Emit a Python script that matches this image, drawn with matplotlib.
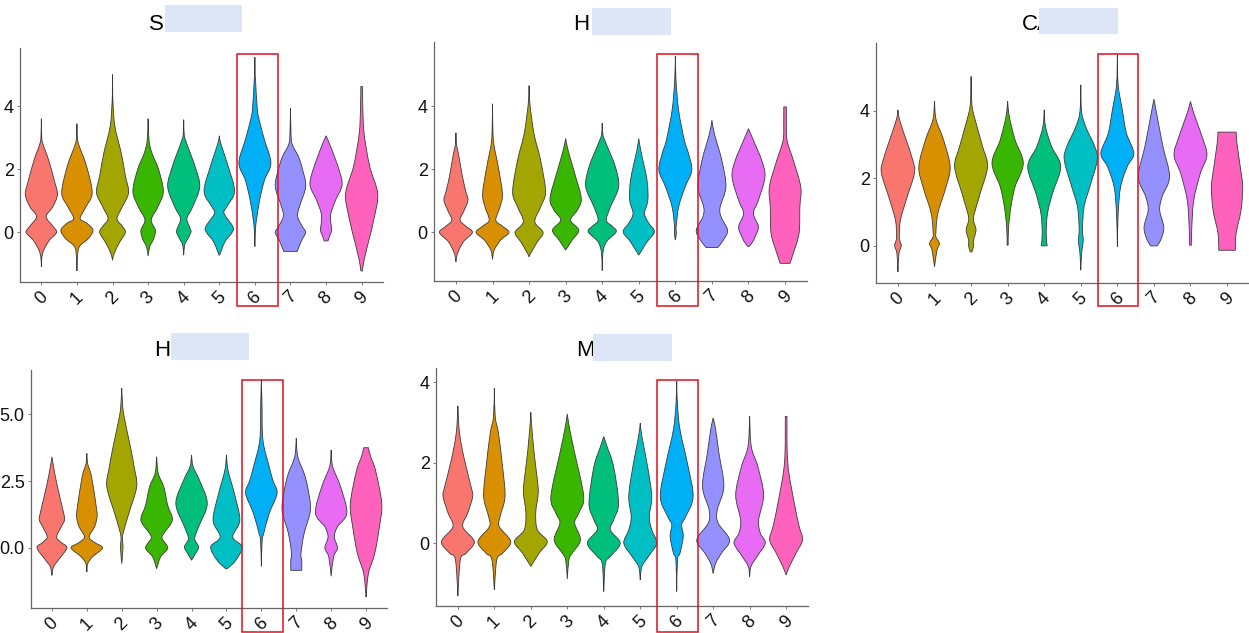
import matplotlib
matplotlib.use("Agg")
import matplotlib.pyplot as plt
from matplotlib.patches import Rectangle, PathPatch
from matplotlib.path import Path

plt.rcParams['font.family'] = ['Liberation Sans', 'DejaVu Sans']

# cluster labels and ggplot hue colours
clusters = ['0', '1', '2', '3', '4', '5', '6', '7', '8', '9']
colors = ['#F8766D', '#D89000', '#A3A500', '#39B600', '#00BF7D',
          '#00BFC4', '#00B0F6', '#9590FF', '#E76BF3', '#FF62BC']

# violin outlines: (value, relative half-width)
s_profiles = [
    [(-1.09, 0), (-0.8, 0.03), (-0.56, 0.15), (-0.25, 0.5), (0, 0.95), (0.18, 0.75), (0.5, 0.3), (0.8, 0.7), (1.2, 1.0), (1.66, 0.8), (2.3, 0.45), (2.83, 0.08), (3.1, 0.02), (3.6, 0)],
    [(-1.22, 0), (-0.8, 0.03), (-0.45, 0.15), (-0.2, 0.7), (0.07, 1.0), (0.3, 0.6), (0.44, 0.2), (0.8, 0.55), (1.25, 0.95), (2.1, 0.6), (2.8, 0.1), (3.1, 0.02), (3.44, 0)],
    [(-0.88, 0), (-0.67, 0.1), (-0.35, 0.4), (0, 0.8), (0.2, 0.6), (0.44, 0.28), (0.8, 0.6), (1.26, 1.0), (1.8, 0.8), (2.5, 0.55), (3.35, 0.15), (4.1, 0.03), (4.5, 0.01), (5.0, 0)],
    [(-0.75, 0), (-0.45, 0.1), (-0.2, 0.35), (0.07, 0.45), (0.4, 0.2), (0.8, 0.6), (1.3, 0.95), (2.0, 0.65), (2.5, 0.25), (2.9, 0.06), (3.6, 0)],
    [(-0.72, 0), (-0.4, 0.06), (-0.25, 0.2), (0, 0.45), (0.13, 0.4), (0.44, 0.2), (0.8, 0.55), (1.45, 1.0), (2.1, 0.7), (2.8, 0.2), (3.1, 0.03), (3.57, 0)],
    [(-0.72, 0.02), (-0.3, 0.35), (0, 0.8), (0.18, 0.85), (0.6, 0.3), (0.8, 0.45), (1.3, 0.95), (2.1, 0.55), (2.8, 0.1), (3.06, 0)],
    [(-0.45, 0), (0.1, 0.04), (0.4, 0.1), (1.03, 0.3), (1.66, 0.6), (2.2, 1.0), (2.93, 0.6), (3.5, 0.3), (3.9, 0.15), (4.84, 0.04), (5.0, 0.01), (5.55, 0)],
    [(-0.6, 0.4), (-0.56, 0.45), (-0.25, 0.7), (0, 0.95), (0.18, 0.75), (0.5, 0.45), (0.8, 0.55), (1.45, 0.95), (2.0, 0.75), (2.4, 0.5), (2.8, 0.1), (3.2, 0.03), (3.94, 0)],
    [(-0.27, 0.12), (-0.14, 0.2), (0.07, 0.35), (0.3, 0.3), (0.6, 0.3), (1.03, 0.6), (1.5, 1.0), (2.0, 0.8), (2.7, 0.3), (3.06, 0)],
    [(-1.22, 0.05), (-0.88, 0.15), (-0.25, 0.45), (0.5, 0.8), (1.24, 1.0), (2.1, 0.5), (3.14, 0.15), (4.0, 0.07), (4.62, 0.05)],
]

h1_profiles = [
    [(-0.93, 0), (-0.66, 0.1), (-0.3, 0.45), (0, 1.0), (0.2, 0.6), (0.39, 0.25), (0.7, 0.5), (1.02, 0.73), (1.3, 0.6), (1.76, 0.4), (2.5, 0.15), (2.8, 0.03), (3.16, 0)],
    [(-0.85, 0), (-0.56, 0.1), (-0.24, 0.5), (0, 1.0), (0.2, 0.6), (0.39, 0.2), (0.8, 0.45), (1.23, 0.6), (2.08, 0.35), (2.8, 0.08), (3.3, 0.02), (4.08, 0)],
    [(-0.77, 0), (-0.66, 0.1), (-0.3, 0.5), (0, 0.85), (0.34, 0.35), (0.81, 0.7), (1.29, 1.0), (2.29, 0.7), (3.13, 0.3), (4.08, 0.05), (4.66, 0)],
    [(-0.56, 0), (-0.24, 0.4), (0.07, 0.8), (0.39, 0.3), (0.7, 0.7), (1.08, 0.95), (1.87, 0.55), (2.6, 0.15), (2.98, 0)],
    [(-1.21, 0), (-0.66, 0.04), (-0.3, 0.25), (0.02, 0.85), (0.2, 0.6), (0.39, 0.25), (0.81, 0.5), (1.45, 1.0), (2.08, 0.8), (2.8, 0.25), (3.1, 0.04), (3.47, 0)],
    [(-0.72, 0), (-0.3, 0.5), (0.02, 0.95), (0.3, 0.6), (0.6, 0.35), (1.02, 0.55), (1.66, 0.5), (2.6, 0.12), (2.98, 0)],
    [(-0.24, 0), (-0.03, 0.06), (0.18, 0.05), (0.81, 0.2), (1.45, 0.6), (1.97, 1.0), (2.5, 0.8), (2.92, 0.55), (3.87, 0.2), (4.82, 0.04), (5.6, 0)],
    [(-0.48, 0.35), (-0.24, 0.7), (0.07, 0.95), (0.5, 0.55), (0.81, 0.5), (1.45, 0.85), (2.29, 0.6), (3.13, 0.15), (3.56, 0)],
    [(-0.44, 0.05), (-0.3, 0.25), (-0.14, 0.4), (0.18, 0.6), (0.6, 0.3), (1.02, 0.6), (1.76, 1.0), (2.29, 0.8), (2.92, 0.3), (3.29, 0)],
    [(-0.98, 0.3), (-0.66, 0.5), (-0.03, 0.85), (0.81, 0.9), (1.45, 0.95), (2.29, 0.5), (2.92, 0.12), (3.5, 0.08), (3.98, 0.08)],
]

ca_profiles = [
    [(-0.77, 0), (-0.23, 0.06), (0, 0.2), (0.15, 0.12), (0.27, 0.08), (0.76, 0.15), (1.36, 0.5), (2.15, 1.0), (2.54, 0.9), (3.14, 0.5), (3.73, 0.1), (4.03, 0)],
    [(-0.62, 0), (-0.13, 0.15), (0.07, 0.3), (0.25, 0.1), (0.37, 0.08), (0.96, 0.2), (1.75, 0.7), (2.35, 0.95), (3.14, 0.55), (3.73, 0.1), (4.28, 0)],
    [(-0.18, 0.05), (0, 0.15), (0.17, 0.15), (0.47, 0.3), (0.75, 0.15), (0.96, 0.2), (1.55, 0.55), (2.35, 1.0), (2.94, 0.7), (3.73, 0.25), (4.18, 0.05), (5.02, 0)],
    [(0.02, 0.03), (0.56, 0.06), (1.16, 0.2), (1.75, 0.45), (2.45, 0.95), (3.14, 0.45), (3.83, 0.1), (4.28, 0)],
    [(0, 0.18), (0.37, 0.12), (0.96, 0.2), (1.55, 0.5), (2.35, 1.0), (2.94, 0.45), (3.53, 0.08), (4.03, 0)],
    [(-0.72, 0), (-0.23, 0.05), (0.17, 0.15), (0.47, 0.1), (1.16, 0.2), (1.75, 0.55), (2.54, 1.0), (2.94, 0.85), (3.53, 0.3), (3.98, 0.05), (4.77, 0)],
    [(-0.03, 0), (0.96, 0.05), (1.75, 0.2), (2.35, 0.6), (2.74, 1.0), (3.34, 0.55), (4.03, 0.3), (4.77, 0.05), (5.66, 0)],
    [(0, 0.2), (0.22, 0.45), (0.56, 0.6), (1.06, 0.35), (1.46, 0.5), (2.05, 0.95), (2.94, 0.55), (3.83, 0.2), (4.35, 0)],
    [(0.02, 0.05), (0.56, 0.08), (1.36, 0.2), (2.15, 0.6), (2.69, 1.0), (3.24, 0.7), (3.93, 0.2), (4.28, 0)],
    [(-0.13, 0.5), (0.37, 0.55), (1.06, 0.85), (1.75, 0.95), (2.35, 0.8), (3.04, 0.6), (3.37, 0.55)],
]

h2_profiles = [
    [(-1.03, 0), (-0.71, 0.1), (-0.46, 0.4), (0, 0.95), (0.2, 0.6), (0.41, 0.3), (0.8, 0.6), (1.04, 0.8), (1.29, 0.75), (2.29, 0.35), (3.04, 0.1), (3.41, 0)],
    [(-0.9, 0), (-0.6, 0.05), (-0.34, 0.35), (0, 1.0), (0.2, 0.5), (0.41, 0.15), (0.8, 0.5), (1.16, 0.65), (1.54, 0.6), (2.66, 0.3), (3.16, 0.05), (3.54, 0)],
    [(-0.59, 0), (0, 0.08), (0.41, 0.05), (0.79, 0.2), (1.29, 0.45), (2.29, 0.95), (3.0, 0.8), (3.79, 0.55), (4.91, 0.15), (5.4, 0.05), (5.98, 0)],
    [(-0.78, 0), (-0.34, 0.25), (0, 0.7), (0.35, 0.35), (0.54, 0.45), (1.04, 1.0), (1.6, 0.7), (2.29, 0.45), (2.79, 0.1), (3.41, 0)],
    [(-0.46, 0), (-0.21, 0.25), (0.04, 0.45), (0.35, 0.2), (0.79, 0.45), (1.66, 1.0), (2.54, 0.5), (3.04, 0.1), (3.48, 0)],
    [(-0.78, 0.05), (-0.46, 0.6), (0.04, 1.0), (0.41, 0.4), (1.04, 0.85), (2.04, 0.5), (2.91, 0.1), (3.48, 0)],
    [(-0.69, 0), (0.29, 0.05), (0.54, 0.15), (1.29, 0.5), (2.04, 1.0), (2.5, 0.75), (3.04, 0.5), (4.04, 0.1), (5.41, 0.04), (6.29, 0)],
    [(-0.84, 0.35), (-0.46, 0.35), (-0.21, 0.3), (0.54, 0.5), (1.41, 0.9), (2.2, 0.75), (2.79, 0.5), (3.41, 0.1), (4.1, 0)],
    [(-1.06, 0), (-0.34, 0.15), (0, 0.4), (0.41, 0.2), (0.79, 0.4), (1.31, 1.0), (2.29, 0.6), (3.04, 0.1), (3.66, 0)],
    [(-1.84, 0), (-0.96, 0.15), (-0.21, 0.55), (0.79, 0.85), (1.66, 1.0), (2.91, 0.6), (3.4, 0.3), (3.75, 0.15)],
]

m_profiles = [
    [(-1.31, 0), (-0.41, 0.15), (-0.25, 0.5), (0.04, 1.0), (0.41, 0.3), (0.75, 0.6), (1.16, 0.9), (1.41, 0.8), (2.07, 0.4), (2.73, 0.1), (3.41, 0)],
    [(-1.16, 0), (-0.41, 0.15), (-0.25, 0.5), (0.04, 1.0), (0.41, 0.3), (0.66, 0.35), (1.16, 0.65), (1.9, 0.5), (2.73, 0.25), (3.15, 0.05), (3.85, 0)],
    [(-0.58, 0), (-0.25, 0.5), (0.04, 1.0), (0.33, 0.4), (0.75, 0.3), (1.24, 0.45), (1.57, 0.4), (2.24, 0.2), (2.98, 0.04), (3.25, 0)],
    [(-0.89, 0), (-0.41, 0.1), (-0.25, 0.3), (0.08, 0.8), (0.5, 0.45), (0.75, 0.7), (1.16, 1.0), (2.24, 0.45), (2.82, 0.15), (3.21, 0)],
    [(-1.2, 0), (-0.5, 0.1), (-0.33, 0.4), (0, 1.0), (0.33, 0.4), (0.58, 0.6), (0.99, 0.9), (1.9, 0.6), (2.4, 0.2), (2.65, 0)],
    [(-0.91, 0), (-0.58, 0.1), (-0.33, 0.5), (0, 1.0), (0.33, 0.7), (0.66, 0.55), (1.16, 0.7), (1.9, 0.45), (2.65, 0.1), (2.98, 0)],
    [(-1.2, 0), (-0.41, 0.05), (-0.25, 0.2), (0.17, 0.4), (0.46, 0.3), (0.66, 0.55), (1.16, 1.0), (1.99, 0.65), (2.82, 0.2), (3.48, 0.04), (4.02, 0)],
    [(-0.75, 0), (-0.5, 0.15), (-0.25, 0.5), (0.08, 1.0), (0.5, 0.3), (0.83, 0.25), (1.41, 0.65), (2.24, 0.35), (2.82, 0.15), (3.11, 0)],
    [(-0.83, 0), (-0.58, 0.08), (-0.33, 0.45), (0, 0.95), (0.25, 0.65), (0.58, 0.55), (1.2, 0.85), (1.9, 0.5), (2.4, 0.1), (3.15, 0)],
    [(-0.79, 0), (-0.58, 0.2), (-0.25, 0.6), (0.08, 1.0), (0.41, 0.8), (0.99, 0.5), (1.99, 0.1), (3.15, 0.05)],
]

# visible first letters of the (masked) gene names
titles = ['S', 'H', 'CA', 'H', 'M']
yticks = [[0, 2, 4], [0, 2, 4], [0, 2, 4], [0.0, 2.5, 5.0], [0, 2, 4]]
yticklabels = [['0', '2', '4'], ['0', '2', '4'], ['0', '2', '4'],
               ['0.0', '2.5', '5.0'], ['0', '2', '4']]
ylims = [(-1.57, 5.84), (-1.54, 6.04), (-1.1, 6.01), (-2.25, 6.66), (-1.56, 4.35)]
profiles = [s_profiles, h1_profiles, ca_profiles, h2_profiles, m_profiles]


def bezier_side(pts):
    # smooth curve through the knots (Catmull-Rom written as cubic Bezier)
    verts = []
    n = len(pts)
    for j in range(n - 1):
        p0 = pts[max(j - 1, 0)]
        p1 = pts[j]
        p2 = pts[j + 1]
        p3 = pts[min(j + 2, n - 1)]
        c1 = (max(p1[0] + (p2[0] - p0[0]) / 6, 0), p1[1] + (p2[1] - p0[1]) / 6)
        c2 = (max(p2[0] - (p3[0] - p1[0]) / 6, 0), p2[1] - (p3[1] - p1[1]) / 6)
        verts += [c1, c2, p2]
    return verts


def violin_path(x, prof, half=0.45):
    side = [(w * half, y) for y, w in prof]
    right = [side[0]] + bezier_side(side)
    left = [side[-1]] + bezier_side(side[::-1])
    verts = [(x + w, y) for w, y in right] + [(x - w, y) for w, y in left]
    verts.append(verts[0])
    codes = ([Path.MOVETO] + [Path.CURVE4] * (len(right) - 1) +
             [Path.LINETO] + [Path.CURVE4] * (len(left) - 1) + [Path.CLOSEPOLY])
    return Path(verts, codes)


W, H = 1249, 633
fig = plt.figure(figsize=(W / 100, H / 100), dpi=100)

# axes boxes in pixels: left, top, right, bottom
boxes = [(20, 48, 383, 282), (434, 42, 807, 281), (876, 43, 1249, 283),
         (31, 370, 387, 608), (436, 368, 808, 606)]
# title left edge / centre and masking box (x0, y0, x1, y1) in pixels
title_pos = [(149, 24), (573, 24), (1022, 24), (154, 350), (576, 351)]
mask_boxes = [(165, 5, 242, 32), (592, 8, 671, 35), (1039, 8, 1118, 34),
              (171, 333, 249, 360), (593, 334, 672, 361)]
red_boxes = [(237, 54, 278, 306), (657, 54, 698, 306), (1098, 54, 1138, 306),
             (242, 380, 283, 632), (657, 380, 698, 632)]

for k in range(5):
    l, t, r, b = boxes[k]
    ax = fig.add_axes([l / W, (H - b) / H, (r - l) / W, (b - t) / H])
    for i, prof in enumerate(profiles[k]):
        ax.add_patch(PathPatch(violin_path(i, prof), facecolor=colors[i],
                               edgecolor='#3a3a3a', linewidth=0.6))
    ax.set_xlim(-0.6, 9.6)
    ax.set_ylim(*ylims[k])
    ax.set_xticks(range(10))
    ax.set_xticklabels(clusters, rotation=45, ha='center', va='top')
    ax.set_yticks(yticks[k])
    ax.set_yticklabels(yticklabels[k])
    for side in ['top', 'right']:
        ax.spines[side].set_visible(False)
    for side in ['left', 'bottom']:
        ax.spines[side].set_color('#666666')
        ax.spines[side].set_linewidth(0.9)
    ax.tick_params(length=2.5, width=0.6, color='#666666', labelsize=13,
                   labelcolor='#111111', pad=2)

    tx, ty = title_pos[k]
    fig.text(tx / W, 1 - ty / H, titles[k], ha='left', va='center',
             fontsize=16, color='black', zorder=3)
    x0, y0, x1, y1 = mask_boxes[k]
    fig.patches.append(Rectangle((x0 / W, 1 - y1 / H), (x1 - x0) / W, (y1 - y0) / H,
                                 transform=fig.transFigure, facecolor='#dde6f6',
                                 edgecolor='none', zorder=5))
    x0, y0, x1, y1 = red_boxes[k]
    fig.patches.append(Rectangle((x0 / W, 1 - y1 / H), (x1 - x0) / W, (y1 - y0) / H,
                                 transform=fig.transFigure, facecolor='none',
                                 edgecolor='#e0101e', linewidth=1.1, zorder=6))

fig.savefig('out.png', dpi=100)
